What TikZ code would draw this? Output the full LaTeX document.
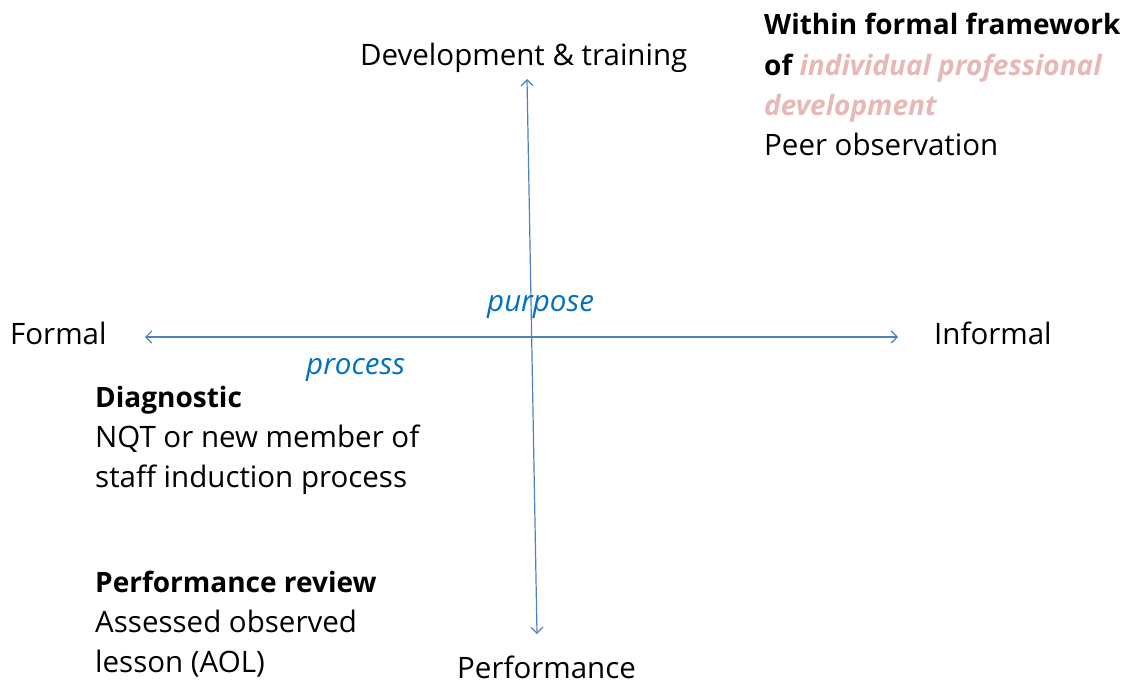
\documentclass[tikz,border=0pt]{standalone}
\usepackage{fontspec}
\setmainfont{Open Sans}
\usetikzlibrary{arrows.meta}
\definecolor{axisblue}{RGB}{79,129,189}
\definecolor{labelblue}{RGB}{0,112,192}
\definecolor{pinkish}{RGB}{230,184,183}
\newcommand{\fsz}{\fontsize{29.5}{30}\selectfont}
\newcommand{\fszb}{\fontsize{28}{30}\selectfont}
\tikzset{
  lbl/.style={anchor=base west, inner sep=0pt, font=\fsz},
  blbl/.style={anchor=base west, inner sep=0pt, font=\fszb\bfseries},
  axis/.style={draw=axisblue, line width=1.2pt, {Straight Barb[length=6pt,width=12pt]}-{Straight Barb[length=6pt,width=12pt]}},
}
\begin{document}
\begin{tikzpicture}[x=1pt,y=-1pt]
\useasboundingbox (0,0) rectangle (1132,685);
\coordinate (L) at (145,337);
\coordinate (R) at (898,337);
\coordinate (T) at (527,79);
\coordinate (B) at (537,634);
\draw[axis] (L) -- (R);
\draw[axis] (T) -- (B);
\node[lbl] (dev) at (360,66) {Development \& training};
\node[lbl] (perf) at (457,678) {Performance};
\node[lbl] (formal) at (10,344) {Formal};
\node[lbl] (informal) at (934,344) {Informal};
\node[lbl, text=labelblue, font=\fsz\itshape] (purpose) at (487,311) {purpose};
\node[lbl, text=labelblue, font=\fsz\itshape] (process) at (306,374) {process};
\node[blbl] (w1) at (764,35) {Within formal framework};
\node[blbl] (w2) at (764,75) {of \textcolor{pinkish}{\itshape individual professional}};
\node[blbl, text=pinkish, font=\fszb\bfseries\itshape] (w3) at (764,115) {development};
\node[lbl] (w4) at (764,155) {Peer observation};
\node[blbl] (d1) at (95,407) {Diagnostic};
\node[lbl] (d2) at (95,447) {NQT or new member of};
\node[lbl] (d3) at (95,487) {staff induction process};
\node[blbl] (p1) at (95,592) {Performance review};
\node[lbl] (p2) at (95,632) {Assessed observed};
\node[lbl] (p3) at (95,672) {lesson (AOL)};
\end{tikzpicture}
\end{document}
